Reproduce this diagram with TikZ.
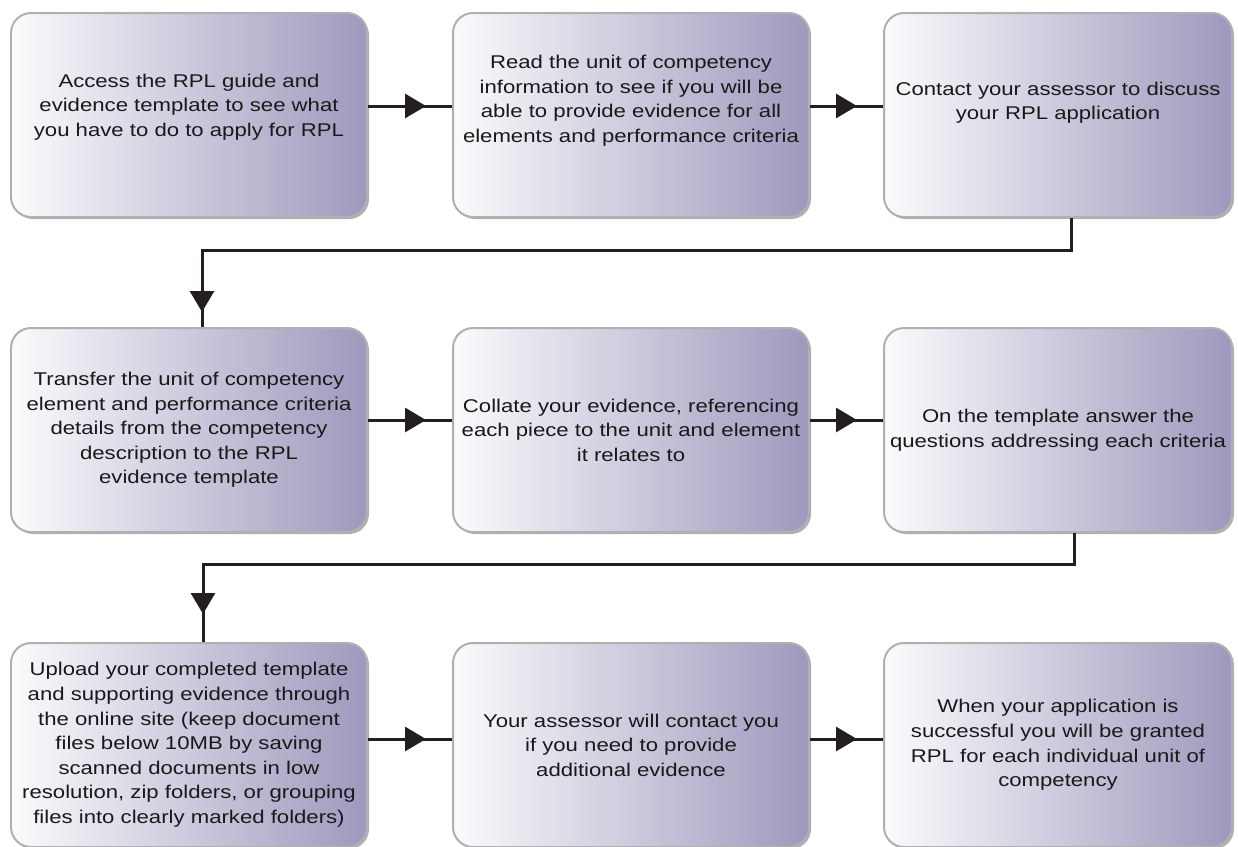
\documentclass[tikz,border=0pt]{standalone}
\usepackage{fontspec}
\setmainfont[FakeStretch=1.2]{Liberation Sans}
\usetikzlibrary{arrows.meta,decorations.markings,shadows}
\definecolor{boxpurple}{RGB}{157,153,189}
\definecolor{boxedge}{RGB}{176,176,176}
\definecolor{lineblack}{RGB}{35,31,32}

\begin{document}
\begin{tikzpicture}[
    stepbox/.style={rounded corners=0.4cm,draw=boxedge,line width=0.04cm,
        left color=white!96!boxpurple,right color=boxpurple,
        drop shadow={shadow xshift=0.04cm,shadow yshift=-0.04cm,fill=boxedge,opacity=1},
        minimum width=7.12cm,minimum height=4.08cm,align=center,
        text=black!90,font=\fontsize{10.5}{14}\selectfont},
    narrow/.style={minimum width=6.96cm},
    lift/.style={text depth=#1},
    flow/.style={draw=lineblack,line width=0.06cm,postaction={decorate}},
    tipat/.style={decoration={markings,
        mark=at position #1 with {\arrow{Triangle[length=0.42cm,width=0.48cm]}}}}
]
    \useasboundingbox (0,0) rectangle (24.76,-16.94);

    % Steps, row by row
    \node[stepbox,lift=0.4cm] (access) at (3.78,-2.30) {Access the RPL guide and\\evidence template to see what\\you have to do to apply for RPL};
    \node[stepbox,lift=0.64cm] (read) at (12.62,-2.30) {Read the unit of competency\\information to see if you will be\\able to provide evidence for all\\elements and performance criteria};
    \node[stepbox,narrow,lift=0.56cm] (contact) at (21.16,-2.30) {Contact your assessor to discuss\\your RPL application};

    \node[stepbox] (transfer) at (3.78,-8.60) {Transfer the unit of competency\\element and performance criteria\\details from the competency\\description to the RPL\\evidence template};
    \node[stepbox] (collate) at (12.62,-8.60) {Collate your evidence, referencing\\each piece to the unit and element\\it relates to};
    \node[stepbox,narrow] (answer) at (21.16,-8.60) {On the template answer the\\questions addressing each criteria};

    \node[stepbox] (upload) at (3.78,-14.90) {Upload your completed template\\and supporting evidence through\\the online site (keep document\\files below 10MB by saving\\scanned documents in low\\resolution, zip folders, or grouping\\files into clearly marked folders)};
    \node[stepbox] (assessor) at (12.62,-14.90) {Your assessor will contact you\\if you need to provide\\additional evidence};
    \node[stepbox,narrow] (granted) at (21.16,-14.90) {When your application is\\successful you will be granted\\RPL for each individual unit of\\competency};

    % Arrows along each row
    \draw[flow,tipat=-0.52cm] ([yshift=0.18cm]access.east) -- ([yshift=0.18cm]read.west);
    \draw[flow,tipat=-0.52cm] ([yshift=0.18cm]read.east) -- ([yshift=0.18cm]contact.west);
    \draw[flow,tipat=-0.52cm] ([yshift=0.2cm]transfer.east) -- ([yshift=0.2cm]collate.west);
    \draw[flow,tipat=-0.52cm] ([yshift=0.2cm]collate.east) -- ([yshift=0.2cm]answer.west);
    \draw[flow,tipat=-0.52cm] ([yshift=0.12cm]upload.east) -- ([yshift=0.12cm]assessor.west);
    \draw[flow,tipat=-0.52cm] ([yshift=0.12cm]assessor.east) -- ([yshift=0.12cm]granted.west);

    % Arrows down to the next row
    \draw[flow,tipat=-0.3cm] ([xshift=0.26cm]contact.south) -- ++(0,-0.64) -| ([xshift=0.26cm]transfer.north);
    \draw[flow,tipat=-0.56cm] ([xshift=0.32cm]answer.south) -- ++(0,-0.62) -| ([xshift=0.28cm]upload.north);
\end{tikzpicture}
\end{document}
